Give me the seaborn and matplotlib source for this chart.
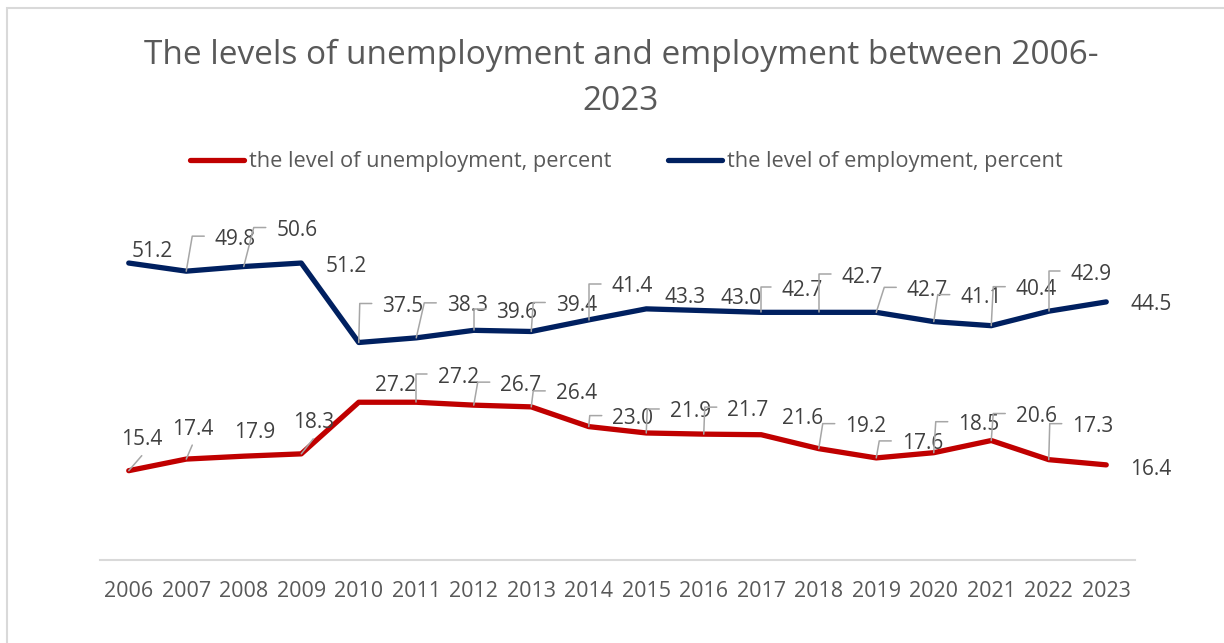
import matplotlib
matplotlib.use("Agg")
import matplotlib.pyplot as plt
import matplotlib.transforms as mtransforms
from matplotlib.lines import Line2D
from matplotlib.patches import Rectangle
import pandas as pd
import seaborn as sns

# ---------------- data ----------------
years = list(range(2006, 2024))
unemployment = [15.4, 17.4, 17.9, 18.3, 27.2, 27.2, 26.7, 26.4, 23.0, 21.9,
                21.7, 21.6, 19.2, 17.6, 18.5, 20.6, 17.3, 16.4]
employment = [51.2, 49.8, 50.6, 51.2, 37.5, 38.3, 39.6, 39.4, 41.4, 43.3,
              43.0, 42.7, 42.7, 42.7, 41.1, 40.4, 42.9, 44.5]
series_names = ["the level of unemployment, percent",
                "the level of employment, percent"]
title_lines = ["The levels of unemployment and employment between 2006-", "2023"]

# ---------------- label placement (pixel offsets, image y down) ----------------
# leader: 0 none, 1 elbow, 2 diagonal
emp_offsets = [(23, -14), (49, -34), (53, -38), (45, 1), (44, -38), (51, -34),
               (43, -20), (45, -28), (43, -35), (39, -13), (37, -14), (41, -24),
               (43, -37), (51, -24), (47, -26), (45, -38), (42, -39), (45, 1)]
emp_leader = [0, 1, 1, 0, 1, 1, 1, 1, 1, 0, 0, 1, 1, 1, 1, 1, 1, 0]
unemp_offsets = [(13, -33), (6, -32), (11, -26), (12, -33), (37, -19), (42, -27),
                 (47, -22), (45, -15), (44, -10), (44, -23), (44, -26), (41, -18),
                 (47, -24), (46, -16), (45, -30), (45, -26), (44, -35), (44, 3)]
unemp_leader = [2, 2, 0, 2, 0, 1, 1, 1, 1, 1, 1, 0, 1, 1, 1, 1, 1, 0]

RED = "#C00000"
NAVY = "#002060"
TXT = "#595959"
LBL = "#404040"
LEADER = "#A6A6A6"
GRID = "#D9D9D9"

sns.set_theme(style="white")
plt.rcParams["font.family"] = ["Open Sans", "DejaVu Sans"]

W, H = 1224, 643
fig = plt.figure(figsize=(W / 100, H / 100), dpi=100)
fig.patch.set_facecolor("white")

ax = fig.add_axes([100 / W, 1 - 560 / H, 1035 / W, 348 / H])

df = pd.DataFrame({
    "year": years * 2,
    "value": unemployment + employment,
    "series": [series_names[0]] * len(years) + [series_names[1]] * len(years),
})
sns.lineplot(data=df, x="year", y="value", hue="series",
             palette={series_names[0]: RED, series_names[1]: NAVY},
             linewidth=3.8, ax=ax, legend=False,
             solid_capstyle="round", solid_joinstyle="round")

ax.set_xlim(years[0] - 0.5, years[-1] + 0.5)
ax.set_ylim(0, 60)
ax.set_xticks(years)
ax.set_xticklabels([str(y) for y in years])
ax.set_yticks([])
ax.set_xlabel("")
ax.set_ylabel("")
for s in ["top", "right", "left"]:
    ax.spines[s].set_visible(False)
ax.spines["bottom"].set_color(GRID)
ax.spines["bottom"].set_linewidth(1.5)
ax.tick_params(axis="x", length=0, pad=15, labelsize=15.5, labelcolor=TXT)
ax.set_facecolor("white")


def draw_labels(vals, offsets, leaders):
    for yr, v, (ox, oy), ld in zip(years, vals, offsets, leaders):
        ax.annotate(f"{v:.1f}", xy=(yr, v), xytext=(ox, -(oy + 7.5)),
                    textcoords="offset pixels", ha="center", va="baseline",
                    fontsize=15, color=LBL, annotation_clip=False)
        if ld == 0:
            continue
        px, py = ax.transData.transform((yr, v))
        if ld == 1:
            cx = max(ox - 43, 0)
            xs = [0, cx, ox - 31]
            ys = [0, oy - 1, oy - 1]
        else:
            xs = [0, ox]
            ys = [0, oy + 18]
        tr = mtransforms.Affine2D().scale(1, -1).translate(px, py)
        ln = Line2D(xs, ys, transform=tr, color=LEADER, linewidth=1.1,
                    clip_on=False, zorder=1)
        fig.add_artist(ln)


draw_labels(employment, emp_offsets, emp_leader)
draw_labels(unemployment, unemp_offsets, unemp_leader)

# title
fig.text(621 / W, 1 - 64 / H, title_lines[0], ha="center", va="baseline",
         fontsize=24, color=TXT)
fig.text(621 / W, 1 - 110 / H, title_lines[1], ha="center", va="baseline",
         fontsize=24, color=TXT)

# legend
handles = [Line2D([0], [0], color=RED, linewidth=3.8, solid_capstyle="round"),
           Line2D([0], [0], color=NAVY, linewidth=3.8, solid_capstyle="round")]
fig.legend(handles, series_names, loc="center", bbox_to_anchor=(626 / W, 1 - 162 / H),
           ncol=2, frameon=False, fontsize=15.7, labelcolor=TXT,
           handlelength=2.5, handletextpad=0.2, columnspacing=2.6)

# chart area border
fig.add_artist(Rectangle((7 / W, -0.1), 2.0, 1.1 - 8 / H, transform=fig.transFigure,
                         fill=False, edgecolor=GRID, linewidth=1.5))

fig.savefig("out.png", dpi=100, facecolor="white")
